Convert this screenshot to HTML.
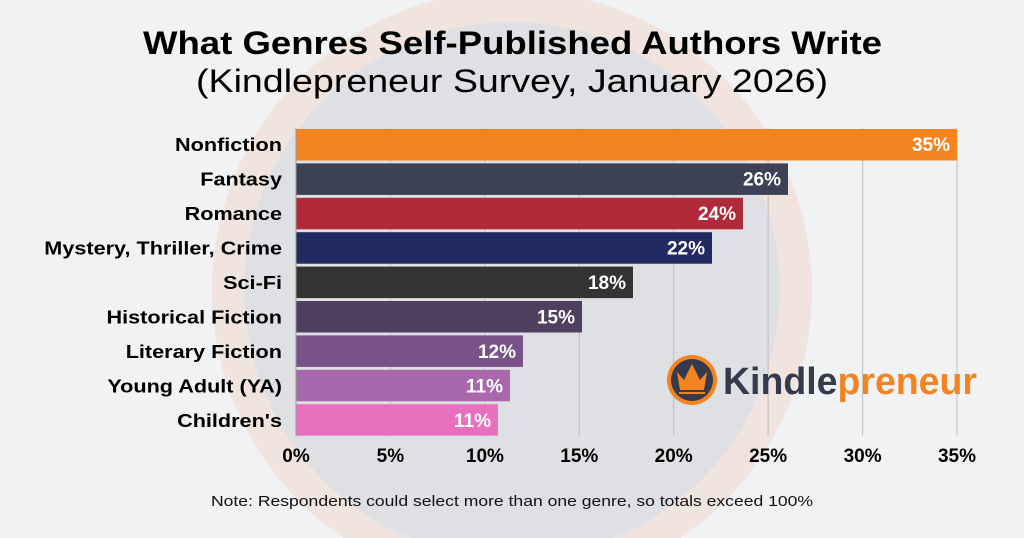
<!DOCTYPE html>
<html><head><meta charset="utf-8"><style>
html,body{margin:0;padding:0;background:#f1f2f4;overflow:hidden;width:1024px;height:538px;}
svg{display:block;position:absolute;left:0;top:0;font-family:"Liberation Sans",sans-serif;}
</style></head><body>
<svg width="1024" height="538" viewBox="0 0 1024 538">
<rect width="1024" height="538" fill="#f1f2f4"/>
<circle cx="512" cy="290" r="300" fill="#f1e4de"/>
<circle cx="512" cy="290" r="268" fill="#dfe0e4"/>
<text x="143" y="54" textLength="739" lengthAdjust="spacingAndGlyphs" font-size="32" font-weight="bold" fill="#000">What Genres Self-Published Authors Write</text>
<text x="196" y="92" textLength="632" lengthAdjust="spacingAndGlyphs" font-size="32" fill="#000">(Kindlepreneur Survey, January 2026)</text>
<g stroke="#bdbdc2" stroke-width="1">
<line x1="390.4" y1="128" x2="390.4" y2="436"/><line x1="484.9" y1="128" x2="484.9" y2="436"/>
<line x1="579.3" y1="128" x2="579.3" y2="436"/><line x1="673.7" y1="128" x2="673.7" y2="436"/>
<line x1="768.1" y1="128" x2="768.1" y2="436"/><line x1="862.6" y1="128" x2="862.6" y2="436"/>
<line x1="957" y1="128" x2="957" y2="436"/>
</g>
<g>
<rect x="296" y="129" width="661" height="31.5" fill="#f38421"/>
<rect x="296" y="163.4" width="492" height="31.5" fill="#3d4155"/>
<rect x="296" y="197.8" width="447" height="31.5" fill="#b02a39"/>
<rect x="296" y="232.2" width="416" height="31.5" fill="#212b61"/>
<rect x="296" y="266.6" width="337" height="31.5" fill="#333333"/>
<rect x="296" y="301" width="286" height="31.5" fill="#4f405f"/>
<rect x="296" y="335.4" width="227" height="31.5" fill="#7a528a"/>
<rect x="296" y="369.8" width="214" height="31.5" fill="#a967ac"/>
<rect x="296" y="404.2" width="202" height="31.5" fill="#e771bf"/>
</g>
<line x1="296" y1="128" x2="296" y2="436" stroke="#999" stroke-width="1"/>
<g font-size="19" font-weight="bold" fill="#fff" text-anchor="end">
<text x="950" y="151">35%</text><text x="781" y="185.5">26%</text><text x="736" y="220">24%</text>
<text x="705" y="254.5">22%</text><text x="626" y="289">18%</text><text x="575" y="323.5">15%</text>
<text x="516" y="358">12%</text><text x="503" y="392.5">11%</text><text x="491" y="427">11%</text>
</g>
<g font-size="18.5" font-weight="bold" fill="#000" text-anchor="end" transform="translate(282,0) scale(1.17,1) translate(-282,0)">
<text x="282" y="151">Nonfiction</text><text x="282" y="185.5">Fantasy</text><text x="282" y="220">Romance</text>
<text x="282" y="254.5">Mystery, Thriller, Crime</text><text x="282" y="289">Sci-Fi</text><text x="282" y="323.5">Historical Fiction</text>
<text x="282" y="358">Literary Fiction</text><text x="282" y="392.5">Young Adult (YA)</text><text x="282" y="427">Children's</text>
</g>
<g font-size="19" font-weight="bold" fill="#000" text-anchor="middle">
<text x="296" y="462">0%</text><text x="390.4" y="462">5%</text><text x="484.9" y="462">10%</text>
<text x="579.3" y="462">15%</text><text x="673.7" y="462">20%</text><text x="768.1" y="462">25%</text>
<text x="862.6" y="462">30%</text><text x="957" y="462">35%</text>
</g>
<text x="211" y="506" textLength="602" lengthAdjust="spacingAndGlyphs" font-size="14.5" fill="#111">Note: Respondents could select more than one genre, so totals exceed 100%</text>
<g>
<circle cx="692" cy="380" r="25" fill="#f38421"/>
<circle cx="692" cy="380" r="21" fill="#353a4d"/>
<path d="M677 372 L684 380 L692 364 L700 380 L707 372 L704 390 L680 390 Z" fill="#f38421"/>
<rect x="679" y="392" width="26" height="2" fill="#f38421"/>
<text x="723" y="394" textLength="254" lengthAdjust="spacingAndGlyphs" font-size="38" font-weight="bold" fill="#353a4d">Kindle<tspan fill="#f38421">preneur</tspan></text>
</g>
</svg>
</body></html>
